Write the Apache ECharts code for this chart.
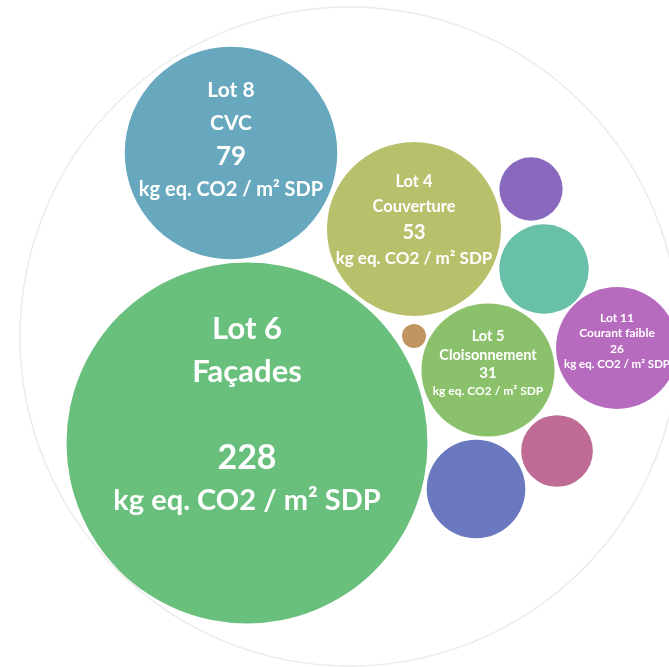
<!DOCTYPE html>
<html>
<head>
<meta charset="utf-8">
<script src="https://cdn.jsdelivr.net/npm/echarts@6/dist/echarts.min.js"></script>
<style>
  html, body { margin: 0; padding: 0; background: #fff; }
  #main { width: 669px; height: 667px; }
</style>
</head>
<body>
<div id="main"></div>
<script>
// données (kg eq. CO2 / m² SDP)
const lots = ["Lot 6", "Lot 8", "Lot 4", "Lot 5", "Lot 11", "", "", "", "", ""]
const trades = ["Façades", "CVC", "Couverture", "Cloisonnement", "Courant faible", "", "", "", "", ""]
const values = [228, 79, 53, 31, 26, 17, 14, 9, 7, 1]
// position des bulles (unités du repère)
const posX = [247, 231, 414, 488, 617, 476, 544, 557, 531, 414]
const posY = [443, 153, 229, 370, 348, 489, 269, 451, 189, 336]
const unit = "kg eq. CO2 / m² SDP"

const colors = ["#69bf7c", "#67a8bf", "#b9c06c", "#8cc16c", "#b76bbf",
  "#6a79bf", "#69c0a8", "#bf6b96", "#8969be", "#c09562"]

// taille du texte par bulle
const labelStyles = [
  { title: 31, value: 34, unit: 29, lh: 43, gap: true, dy: -28 },
  { title: 21, value: 26, unit: 20, lh: 33, dy: -13 },
  { title: 16.5, value: 20, unit: 17, lh: 25.7, dy: -9 },
  { title: 14.5, value: 15, unit: 12, lh: 18.3, dy: -6 },
  { title: 12, value: 12, unit: 11.5, lh: 15.3, dy: -7 }
]

// diamètre proportionnel à la racine de la valeur
const k = 361 / Math.sqrt(228)

function makeLabel(i) {
  const s = labelStyles[i]
  if (!s) return { show: false }
  const base = { color: '#fff', fontFamily: 'Lato', fontWeight: 'bold', lineHeight: s.lh, align: 'center' }
  return {
    show: true,
    position: 'inside',
    offset: [0, s.dy],
    formatter: () => `{t|${lots[i]}}\n{t|${trades[i]}}\n${s.gap ? '{t| }\n' : ''}{v|${values[i]}}\n{u|${unit}}`,
    rich: {
      t: { ...base, fontSize: s.title },
      v: { ...base, fontSize: s.value },
      u: { ...base, fontSize: s.unit }
    }
  }
}

const bubbles = values.map((v, i) => ({
  name: lots[i],
  value: [posX[i], posY[i], v],
  itemStyle: { color: colors[i] },
  label: makeLabel(i)
}))

var myChart = echarts.init(document.getElementById('main'))

var option = {
  animation: false,
  grid: { left: 0, right: 0, top: 0, bottom: 0 },
  xAxis: { type: 'value', min: 0, max: 669, show: false },
  yAxis: { type: 'value', min: 0, max: 667, inverse: true, show: false },
  series: [
    {
      // cercle englobant
      type: 'scatter',
      silent: true,
      clip: false,
      symbolSize: 659,
      data: [[349.5, 336.5]],
      itemStyle: { color: 'rgba(0,0,0,0)', borderColor: '#e6e6e6', borderWidth: 1.5 }
    },
    {
      type: 'scatter',
      clip: false,
      symbolSize: val => k * Math.sqrt(val[2]),
      data: bubbles,
      itemStyle: { opacity: 1 }
    }
  ]
}

myChart.setOption(option)
</script>
</body>
</html>
